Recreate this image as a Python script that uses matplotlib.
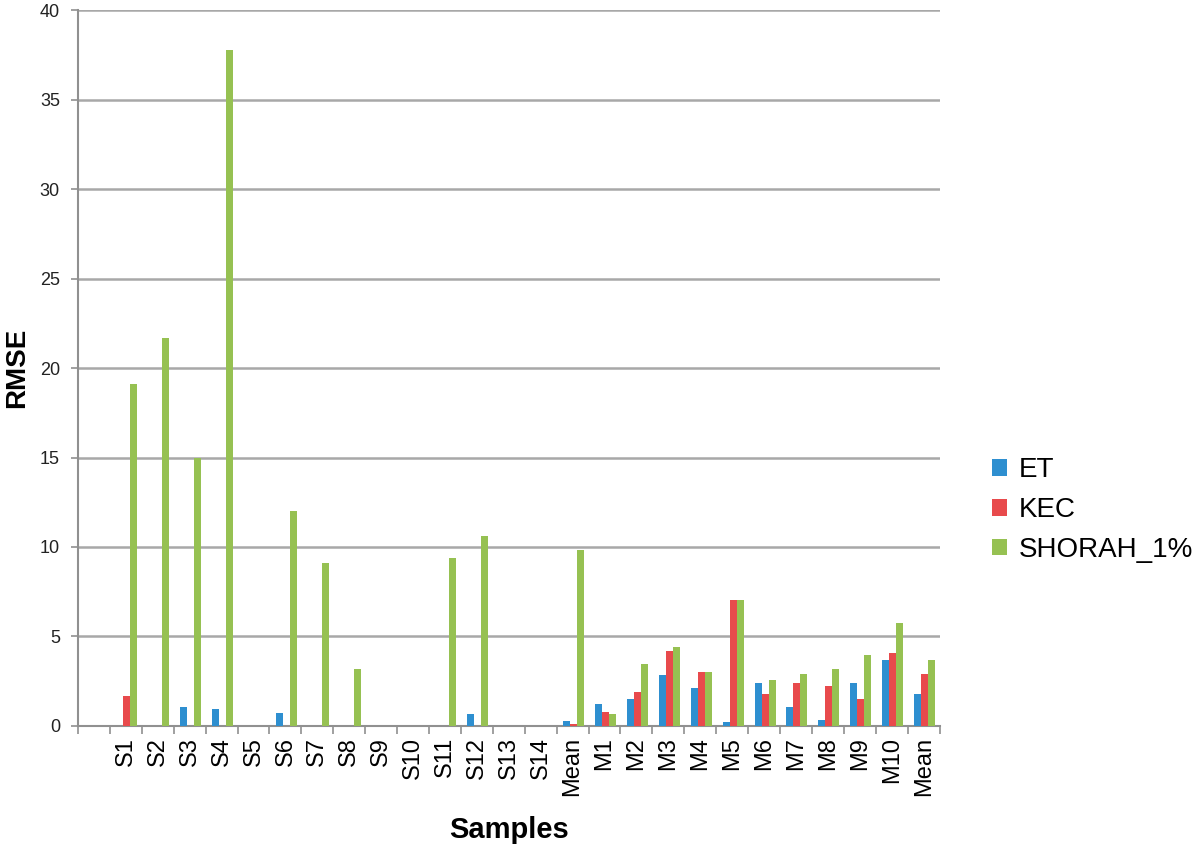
import matplotlib.pyplot as plt
import numpy as np

plt.rcParams['font.family'] = ['Liberation Sans', 'DejaVu Sans']

# categories (first slot is empty in the original chart)
samples = ["", "S1", "S2", "S3", "S4", "S5", "S6", "S7", "S8", "S9", "S10",
           "S11", "S12", "S13", "S14", "Mean",
           "M1", "M2", "M3", "M4", "M5", "M6", "M7", "M8", "M9", "M10", "Mean"]

et = [0, 0, 0, 1.08, 0.97, 0, 0.71, 0, 0, 0, 0,
      0, 0.67, 0, 0, 0.26,
      1.22, 1.48, 2.85, 2.12, 0.22, 2.40, 1.03, 0.34, 2.38, 3.71, 1.78]
kec = [0, 1.68, 0, 0, 0, 0, 0, 0, 0, 0, 0,
       0, 0, 0, 0, 0.12,
       0.75, 1.89, 4.21, 3.03, 7.02, 1.78, 2.38, 2.23, 1.48, 4.10, 2.90]
shorah = [0, 19.1, 21.7, 15.0, 37.8, 0, 12.0, 9.1, 3.17, 0, 0,
          9.4, 10.6, 0, 0, 9.83,
          0.69, 3.46, 4.40, 3.03, 7.02, 2.57, 2.90, 3.18, 3.97, 5.75, 3.69]

series_names = ["ET", "KEC", "SHORAH_1%"]
colors = ["#2E8FD0", "#E84A4C", "#96C152"]

x = np.arange(len(samples))
w = 0.22

fig = plt.figure(figsize=(12, 8.5), dpi=100)
ax = fig.add_axes([0.065, 0.146, 0.718, 0.842])

for i, (vals, name, c) in enumerate(zip([et, kec, shorah], series_names, colors)):
    ax.bar(x + (i - 1) * w + 0.03, vals, width=w, color=c, label=name, zorder=3)

ax.set_xlim(-0.5, len(samples) - 0.5)
ax.set_ylim(0, 40)
ax.set_yticks(np.arange(0, 41, 5))
ax.yaxis.grid(True, color="#A8A8A8", linewidth=1.8, zorder=0)

ax.set_xticks(x)
ax.set_xticklabels(samples, rotation=90, fontsize=17)
ax.set_xticks(np.arange(-0.5, len(samples)), minor=True)
ax.tick_params(axis='x', which='major', length=0, pad=8)
ax.tick_params(axis='x', which='minor', length=6, width=1.2, color="#909090")
ax.tick_params(axis='y', length=5, width=1.2, color="#909090", labelsize=13,
               labelcolor="#222222", pad=8)

for s in ["top", "right"]:
    ax.spines[s].set_visible(False)
for s in ["left", "bottom"]:
    ax.spines[s].set_color("#909090")
    ax.spines[s].set_linewidth(1.5)

ax.set_ylabel("RMSE", fontsize=20, fontweight="bold")
ax.yaxis.set_label_coords(-0.056, 0.5)
ax.set_xlabel("Samples", fontsize=21, fontweight="bold", labelpad=14)

ax.legend(loc="center left", bbox_to_anchor=(0.815, 0.40),
          bbox_transform=fig.transFigure, frameon=False, borderpad=0,
          fontsize=20, handlelength=0.55, handleheight=0.55, handletextpad=0.4,
          labelspacing=0.5)

fig.savefig("out.png", dpi=100)
